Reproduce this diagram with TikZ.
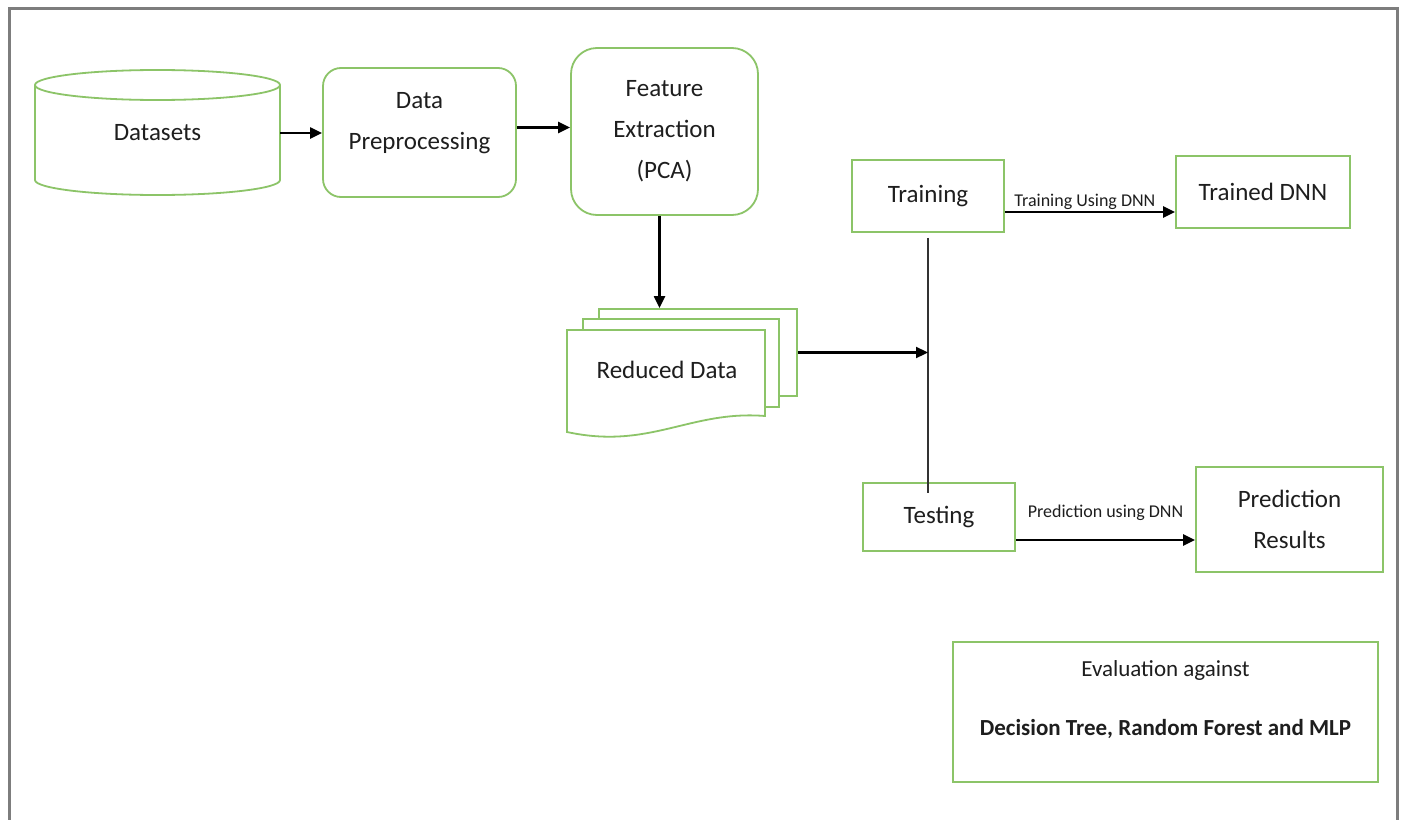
\documentclass[tikz,border=0pt]{standalone}
\usepackage{fontspec}
\setmainfont{Carlito}
\usetikzlibrary{arrows.meta,calc}
\definecolor{boxgreen}{RGB}{140,196,104}
\definecolor{framegray}{RGB}{125,125,125}
\definecolor{ink}{RGB}{30,30,30}

\begin{document}
\begin{tikzpicture}[x=1pt,y=1pt,
  box/.style={draw=boxgreen, line width=1.8pt, fill=white, inner sep=0pt},
  roundbox/.style={box, rounded corners=#1},
  txt/.style={text=ink, font=\fontsize{25}{41}\selectfont, align=center, inner sep=1pt},
  small/.style={text=ink, font=\fontsize{18}{20}\selectfont, inner sep=1pt},
  flow/.style={draw=black, line width=2.2pt, -{Triangle[length=12pt,width=11pt]}},
  link/.style={draw=black!80, line width=2pt}]

\useasboundingbox (0,0) rectangle (1402,-819);
\fill[white] (0,0) rectangle (1402,-819);
% outer frame (open at the bottom)
\draw[framegray, line width=3pt] (9,-825) -- (9,-8) -- (1397,-8) -- (1397,-825);

% Datasets cylinder
\draw[box] (35,-85) -- (35,-180) arc[start angle=180, end angle=360, x radius=122.5, y radius=15] -- (280,-85);
\draw[box] (157.5,-85) ellipse [x radius=122.5, y radius=15];
\node[txt, minimum width=245pt] (ds) at (157.5,-133) {Datasets};

% Preprocessing and feature extraction
\node[roundbox=18pt, minimum width=193pt, minimum height=129pt] (dp) at (419.5,-132.5) {};
\node[txt] (dpt) at ([yshift=9pt]dp.center) {Data\\Preprocessing};
\node[roundbox=26pt, txt, minimum width=187pt, minimum height=167pt] (fe) at (664.5,-131.5) {Feature\\Extraction\\(PCA)};

% Reduced data (stack of documents)
\node[box, minimum width=198pt, minimum height=87pt] (rdback) at (698,-352.5) {};
\node[box, minimum width=196pt, minimum height=88pt] (rdmid) at (681,-363) {};
\draw[box] (567,-330) -- (765,-330) -- (765,-416) .. controls (690,-410) and (650,-450) .. (567,-432) -- cycle;
\node[txt] (rd) at (667,-370) {Reduced Data};

% Training / testing branch
\node[box, txt, minimum width=152pt, minimum height=72pt] (tr) at (928,-196) {Training};
\node[box, txt, minimum width=174pt, minimum height=72pt] (td) at (1263,-192) {Trained DNN};
\node[box, txt, minimum width=152pt, minimum height=68pt] (te) at (939,-517) {Testing};
\node[box, txt, minimum width=187pt, minimum height=105pt] (pr) at (1289.5,-519.5) {Prediction\\Results};

% Evaluation
\node[box, minimum width=425pt, minimum height=140pt] (ev) at (1165.5,-712) {};
\node[text=ink, align=center, font=\fontsize{23}{59}\selectfont] (evt) at ([yshift=12pt]ev.center) {Evaluation against\\\textbf{Decision Tree, Random Forest and MLP}};

% Connectors
\draw[flow] (ds.east) -- (ds.east -| dp.west);
\draw[flow] ([yshift=5pt]dp.east) -- ([yshift=5pt]dp.east -| fe.west);
\draw[flow] ([xshift=-5pt]fe.south) -- ([xshift=-5pt]fe.south |- rdback.north);

\coordinate (vt) at ([yshift=-5pt]tr.south);
\coordinate (vb) at ($(te.north -| tr.south)+(0,-11)$);
\draw[link] (vt) -- (vb);
\draw[flow] (rdback.east) -- (rdback.east -| vt);

\draw[flow] ([yshift=-16pt]tr.east) -- node[small, above, pos=0.47] (lbtr) {Training Using DNN} ([yshift=-16pt]tr.east -| td.west);
\draw[flow] ([yshift=-23pt]te.east) -- node[small, above=17pt] (lbte) {Prediction using DNN} ([yshift=-23pt]te.east -| pr.west);
\end{tikzpicture}
\end{document}
